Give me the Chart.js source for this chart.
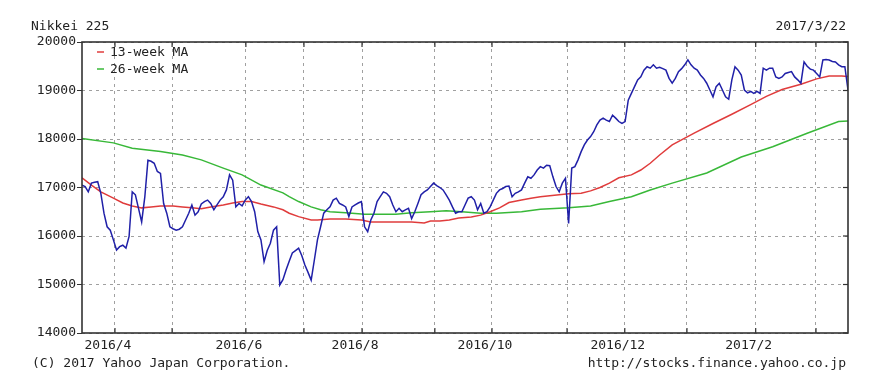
<!DOCTYPE html>
<html>
<head>
<meta charset="utf-8">
<script src="https://cdn.jsdelivr.net/npm/chart.js@4"></script>
<style>
  body { margin: 0; background: #fff; }
  #wrap { position: relative; width: 870px; height: 383px; }
  .txt { position: absolute; font: 13px "DejaVu Sans Mono", monospace; color: #222; line-height: 16px; white-space: nowrap; }
</style>
</head>
<body>
<div id="wrap">
  <canvas id="chart" width="870" height="383"></canvas>
  <div class="txt" style="left:31px;top:18px;">Nikkei 225</div>
  <div class="txt" style="right:24px;top:18px;">2017/3/22</div>
  <div class="txt" style="left:32px;top:355px;">(C) 2017 Yahoo Japan Corporation.</div>
  <div class="txt" style="right:24px;top:355px;">http://stocks.finance.yahoo.co.jp</div>
</div>
<script>
// closing prices, one per trading day (day 0 = 2016/3/22)
const closeValues = [
  17050, 17020, 16910, 17090, 17110, 17120, 16880, 16470, 16190, 16120,
  15920, 15710, 15780, 15810, 15750, 15990, 16910, 16850, 16570, 16290,
  16800, 17560, 17540, 17500, 17330, 17290, 16670, 16470, 16190, 16150,
  16120, 16140, 16190, 16330, 16470, 16640, 16430, 16500, 16660, 16710,
  16740, 16670, 16540, 16640, 16740, 16810, 16950, 17260, 17150, 16600,
  16670, 16620, 16740, 16810, 16710, 16500, 16090, 15920, 15470, 15700,
  15850, 16120, 16190, 14990, 15100, 15300, 15480, 15650, 15700, 15750,
  15600, 15400, 15250, 15090, 15500, 15920, 16190, 16470, 16540, 16600,
  16740, 16780, 16670, 16640, 16600, 16400, 16600, 16640, 16680, 16710,
  16190, 16090, 16330, 16470, 16710, 16810, 16910, 16880, 16810, 16640,
  16500, 16570, 16500, 16540, 16570, 16360, 16500, 16670, 16850, 16910,
  16950, 17020, 17090, 17040, 17000, 16950, 16850, 16740, 16600, 16470,
  16500, 16500, 16640, 16780, 16810, 16740, 16540, 16670, 16470, 16500,
  16600, 16740, 16880, 16950, 16980, 17020, 17030, 16810, 16880, 16910,
  16950, 17090, 17220, 17190, 17260, 17360, 17430, 17400, 17460, 17450,
  17220, 17020, 16910, 17090, 17190, 16260, 17400, 17430, 17570, 17740,
  17880, 17980, 18050, 18150, 18290, 18390, 18430, 18390, 18360, 18490,
  18430, 18360, 18320, 18360, 18800, 18940, 19080, 19220, 19280, 19420,
  19490, 19460, 19530, 19460, 19480, 19450, 19420, 19250, 19150, 19250,
  19390, 19450, 19530, 19630, 19530, 19460, 19420, 19320, 19250, 19150,
  19010, 18870, 19080, 19150, 19010, 18870, 18820, 19220, 19490, 19420,
  19320, 19010, 18950, 18980, 18940, 18980, 18940, 19460, 19420, 19460,
  19460, 19280, 19250, 19280, 19350, 19370, 19390, 19280, 19220, 19150,
  19590, 19500, 19440, 19420, 19350, 19280, 19630, 19640, 19630, 19600,
  19590, 19530, 19490, 19490, 19010
];

// 13-week moving average (trading day, value)
const ma13Days = [0, 3, 6, 10, 13, 16, 19, 22, 25, 29, 32, 35, 38, 41, 45, 48, 51, 54, 57, 61,
  64, 66, 69, 73, 75, 79, 84, 89, 92, 95, 100, 105, 109, 111, 114, 117, 120, 124, 127, 130,
  133, 136, 140, 143, 146, 149, 152, 155, 159, 162, 165, 168, 171, 175, 178, 181, 184, 188, 195, 201,
  207, 213, 218, 223, 229, 234, 238, 242, 244];
const ma13Values = [17200, 17050, 16910, 16780, 16680, 16620, 16580, 16600, 16620, 16620,
  16600, 16580, 16560, 16600, 16640, 16680, 16710, 16710, 16660, 16600,
  16540, 16470, 16400, 16330, 16330, 16350, 16350, 16330, 16290, 16290,
  16290, 16290, 16270, 16310, 16310, 16330, 16370, 16390, 16430, 16500,
  16580, 16690, 16740, 16780, 16810, 16830, 16850, 16870, 16880, 16930,
  17000, 17090, 17200, 17260, 17360, 17500, 17670, 17880, 18120, 18320,
  18510, 18710, 18880, 19020, 19130, 19240, 19300, 19300, 19290];

// 26-week moving average
const ma26Days = [0, 10, 16, 25, 32, 38, 45, 51, 57, 64, 66, 69, 73, 76, 79, 84, 90, 95, 100, 105,
  111, 116, 121, 127, 132, 140, 146, 152, 155, 162, 168, 175, 181, 188, 199, 210, 220, 231, 241, 244];
const ma26Values = [18010, 17920, 17810, 17740, 17670, 17570, 17400, 17260, 17050, 16890,
  16810, 16710, 16600, 16540, 16500, 16480, 16450, 16450, 16450, 16480,
  16500, 16520, 16500, 16470, 16470, 16500, 16550, 16570, 16580, 16620,
  16710, 16810, 16950, 17090, 17300, 17630, 17840, 18120, 18360, 18370];

// first trading day of each month, in trading-day units
const monthStarts = [10.5, 28.7, 52.2, 70.7, 89.2, 112.4, 130.6, 154.5, 172.9, 192.7, 214.6, 233.8];
const monthLabels = ["2016/4", "", "2016/6", "", "2016/8", "", "2016/10", "", "2016/12", "", "2017/2", ""];

const FONT = { family: "'DejaVu Sans Mono', monospace", size: 13 };

// frame, inner tick marks and legend
const framePlugin = {
  id: "frame",
  afterDraw(chart) {
    const { ctx, chartArea: a, scales } = chart;
    ctx.save();
    ctx.strokeStyle = "#333";
    ctx.lineWidth = 1.2;
    monthStarts.forEach((m) => {
      const x = scales.x.getPixelForValue(m);
      ctx.beginPath();
      ctx.moveTo(x, a.top); ctx.lineTo(x, a.top + 5);
      ctx.moveTo(x, a.bottom); ctx.lineTo(x, a.bottom - 5);
      ctx.stroke();
    });
    scales.y.ticks.forEach((t) => {
      const y = scales.y.getPixelForValue(t.value);
      ctx.beginPath();
      ctx.moveTo(a.right, y); ctx.lineTo(a.right - 5, y);
      ctx.stroke();
    });
    ctx.lineWidth = 1.6;
    ctx.strokeRect(a.left, a.top, a.right - a.left, a.bottom - a.top);

    // legend
    ctx.font = FONT.size + "px " + FONT.family;
    ctx.textBaseline = "middle";
    ctx.fillStyle = "#222";
    chart.data.datasets.forEach((ds, i) => {
      if (!ds.showInLegend) return;
      const y = a.top + 10 + (i - 1) * 17;
      ctx.strokeStyle = ds.borderColor;
      ctx.lineWidth = 1.5;
      ctx.beginPath();
      ctx.moveTo(a.left + 15, y); ctx.lineTo(a.left + 22, y);
      ctx.stroke();
      ctx.fillText(ds.label, a.left + 28, y + 1);
    });
    ctx.restore();
  }
};

new Chart(document.getElementById("chart"), {
  type: "line",
  data: {
    datasets: [
      {
        label: "Nikkei 225",
        data: closeValues.map((v, i) => ({ x: i, y: v })),
        borderColor: "#2020a8",
        borderWidth: 1.5,
        pointRadius: 0,
        tension: 0
      },
      {
        label: "13-week MA",
        showInLegend: true,
        data: ma13Days.map((d, i) => ({ x: d, y: ma13Values[i] })),
        borderColor: "#e03c3c",
        borderWidth: 1.5,
        pointRadius: 0,
        tension: 0
      },
      {
        label: "26-week MA",
        showInLegend: true,
        data: ma26Days.map((d, i) => ({ x: d, y: ma26Values[i] })),
        borderColor: "#38b838",
        borderWidth: 1.5,
        pointRadius: 0,
        tension: 0
      }
    ]
  },
  options: {
    responsive: false,
    animation: false,
    events: [],
    layout: { padding: { top: 42, right: 22, bottom: 0, left: 0 } },
    plugins: { legend: { display: false }, tooltip: { enabled: false } },
    scales: {
      x: {
        type: "linear",
        min: 0,
        max: 244,
        afterFit: (s) => { s.height = 50; },
        afterBuildTicks: (s) => { s.ticks = monthStarts.map((v) => ({ value: v })); },
        grid: { color: "#a0a0a0", drawTicks: false },
        border: { display: false, dash: [3, 4] },
        ticks: {
          autoSkip: false,
          maxRotation: 0,
          padding: 5,
          labelOffset: -7,
          color: "#222",
          font: FONT,
          callback: (v, i) => monthLabels[i]
        }
      },
      y: {
        min: 14000,
        max: 20000,
        afterFit: (s) => { s.width = 82; },
        grid: { color: "#a0a0a0", tickLength: 5, tickColor: "#333", tickBorderDash: [] },
        border: { display: false, dash: [3, 4] },
        ticks: {
          stepSize: 1000,
          padding: 1,
          color: "#222",
          font: FONT,
          callback: (v) => String(v)
        }
      }
    }
  },
  plugins: [framePlugin]
});
</script>
</body>
</html>
